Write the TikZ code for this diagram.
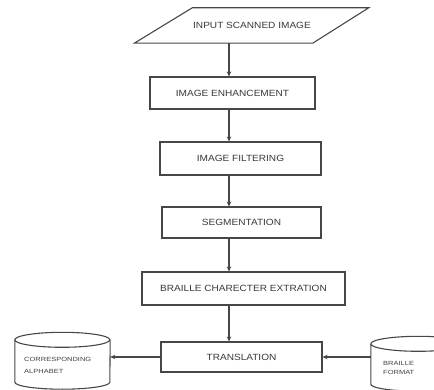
\documentclass[tikz,border=0pt]{standalone}
\usepackage{fontspec}
\setmainfont{Liberation Sans}
\usetikzlibrary{arrows.meta,calc}
\newcommand{\widetext}[1]{\scalebox{1.12}[1]{#1}}
\newcommand{\widersmall}[1]{\scalebox{1.25}[1]{#1}}
\begin{document}
\begin{tikzpicture}[x=1pt,y=-1pt,
  line/.style={draw=black!72,line width=1.1pt},
  flowbox/.style={line,rectangle,inner sep=0pt,font=\fontsize{9}{10}\selectfont,text=black!78},
  link/.style={line,-{Stealth[length=5pt,width=4.5pt]}},
  dbtext/.style={font=\fontsize{6}{7}\selectfont,text=black!75,align=left,inner sep=0pt}]
\useasboundingbox (0,0) rectangle (434,390);
\clip (0,0) rectangle (434,390);
\coordinate (spine) at (229,0);
% input parallelogram
\node[inner sep=0pt,minimum width=177pt,minimum height=35pt,font=\fontsize{9}{10}\selectfont,text=black!78] (input) at (252,25.5) {\widetext{INPUT SCANNED IMAGE}};
\draw[line] ($(input.south west)+(-29,0)$) -- ($(input.north west)+(29,0)$) -- ($(input.north east)+(28,0)$) -- ($(input.south east)+(-28,0)$) -- cycle;
% boxes
\node[flowbox,minimum width=165pt,minimum height=32pt] (enh) at (232.5,93) {\widetext{IMAGE ENHANCEMENT}};
\node[flowbox,minimum width=161pt,minimum height=33pt] (filt) at (240.5,158.5) {\widetext{IMAGE FILTERING}};
\node[flowbox,minimum width=159pt,minimum height=31pt] (seg) at (241.5,222.5) {\widetext{SEGMENTATION}};
\node[flowbox,minimum width=203pt,minimum height=33pt] (extr) at (243.5,288.5) {\widetext{BRAILLE CHARECTER EXTRATION}};
\node[flowbox,minimum width=161pt,minimum height=30pt] (trans) at (241.5,357) {\widetext{TRANSLATION}};
% cylinders
\node[inner sep=0pt,minimum width=95pt,minimum height=42pt] (alpha) at (62.5,361) {};
\node[dbtext,anchor=west] (alphatxt) at (24,365) {\widersmall{CORRESPONDING}\\[5pt]\widersmall{ALPHABET}};
\draw[line] (alpha.north west) arc[start angle=180,end angle=540,x radius=47.5pt,y radius=7.5pt];
\draw[line] (alpha.north west) -- (alpha.south west) arc[start angle=180,end angle=360,x radius=47.5pt,y radius=7pt] -- (alpha.north east);
\node[inner sep=0pt,minimum width=95pt,minimum height=40pt] (braille) at (418.5,364) {};
\node[dbtext,anchor=west] (brailletxt) at (383,368) {\widersmall{BRAILLE}\\[2pt]\widersmall{FORMAT}};
\draw[line] (braille.north west) arc[start angle=180,end angle=540,x radius=47.5pt,y radius=7.5pt];
\draw[line] (braille.north west) -- (braille.south west) arc[start angle=180,end angle=360,x radius=47.5pt,y radius=7pt] -- (braille.north east);
% connectors
\draw[link] (input.south -| spine) -- (enh.north -| spine);
\draw[link] (enh.south -| spine) -- (filt.north -| spine);
\draw[link] (filt.south -| spine) -- (seg.north -| spine);
\draw[link] (seg.south -| spine) -- (extr.north -| spine);
\draw[link] (extr.south -| spine) -- (trans.north -| spine);
\draw[link] (trans.west) -- (trans.west -| alpha.east);
\draw[link] (trans.east -| braille.west) -- (trans.east);
\end{tikzpicture}
\end{document}
